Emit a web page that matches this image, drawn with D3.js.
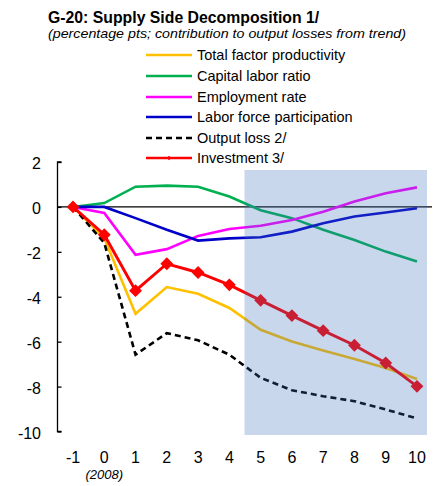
<!DOCTYPE html>
<html>
<head>
<meta charset="utf-8">
<script src="https://cdn.jsdelivr.net/npm/d3@7"></script>
<style>
  html, body { margin: 0; padding: 0; background: #fff; }
  svg { display: block; font-family: "Liberation Sans", Arial, sans-serif; }
</style>
</head>
<body>
<svg id="chart" width="442" height="486"></svg>
<script>
// ---- data ----
const years = [-1, 0, 1, 2, 3, 4, 5, 6, 7, 8, 9, 10];
const tfp        = [0, -1.40, -4.76, -3.57, -3.87, -4.50, -5.47, -5.99, -6.39, -6.77, -7.17, -7.66];
const capital    = [0, 0.17, 0.90, 0.95, 0.90, 0.46, -0.15, -0.50, -1.02, -1.47, -1.99, -2.43];
const employment = [0, -0.27, -2.13, -1.88, -1.29, -0.98, -0.84, -0.58, -0.21, 0.24, 0.61, 0.87];
const laborForce = [0, 0.00, -0.50, -1.02, -1.50, -1.40, -1.35, -1.10, -0.73, -0.43, -0.25, -0.06];
const outputLoss = [0, -1.60, -6.58, -5.62, -5.94, -6.58, -7.61, -8.16, -8.43, -8.65, -9.02, -9.42];
const investment = [0, -1.24, -3.73, -2.53, -2.92, -3.47, -4.16, -4.84, -5.51, -6.16, -6.95, -7.99];
const seriesNames = ["Total factor productivity", "Capital labor ratio", "Employment rate",
                     "Labor force participation", "Output loss 2/", "Investment 3/"];
const yTicks = [2, 0, -2, -4, -6, -8, -10];
const xTickLabels = years.map(String);
const baseYearLabel = "(2008)";
const shadeFrom = 4.5;
const titleText = "G-20: Supply Side Decomposition 1/";
const subtitleText = "(percentage pts; contribution to output losses from trend)";

// ---- drawing ----
const svg = d3.select("#chart");
const x = d3.scaleLinear().domain([-1, 10]).range([73, 417]);
const y = d3.scaleLinear().domain([-10, 2]).range([431.5, 162]);

const series = [
  { name: seriesNames[0], values: tfp, color: "#FFC000" },
  { name: seriesNames[1], values: capital, color: "#00B050" },
  { name: seriesNames[2], values: employment, color: "#FF00FF" },
  { name: seriesNames[3], values: laborForce, color: "#0000C8" },
  { name: seriesNames[4], values: outputLoss, color: "#000000", dash: "6,4" },
  { name: seriesNames[5], values: investment, color: "#FF0000", marker: true }
];

// title
svg.append("text").attr("x", 48).attr("y", 22.5)
  .attr("font-size", 15.8).attr("font-weight", "bold").attr("fill", "#000")
  .text(titleText);
svg.append("text").attr("x", 48).attr("y", 38)
  .attr("font-size", 13.5).attr("font-style", "italic").attr("fill", "#000")
  .attr("textLength", 358).attr("lengthAdjust", "spacingAndGlyphs")
  .text(subtitleText);

// legend
const legendY = [55, 76, 97, 117, 138, 158];
const lg = svg.append("g");
series.forEach((s, i) => {
  const g = lg.append("g").attr("transform", `translate(0,${legendY[i]})`);
  g.append("line").attr("x1", 146).attr("x2", 192).attr("y1", 0).attr("y2", 0)
    .attr("stroke", s.color).attr("stroke-width", 2.5)
    .attr("stroke-dasharray", s.dash || null);
  if (s.marker) {
    g.append("path").attr("d", d3.symbol(d3.symbolDiamond2, 14)())
      .attr("transform", "translate(169,0)").attr("fill", s.color);
  }
  g.append("text").attr("x", 197).attr("y", 5).attr("font-size", 14.5)
    .attr("fill", "#000").text(s.name);
});

// y axis
const yAxis = d3.axisRight(y).tickValues(yTicks).tickSize(4).tickFormat("");
const ya = svg.append("g").attr("transform", "translate(57.5,0)").call(yAxis);
ya.select(".domain").attr("d", `M4,${y(2)}H0V${y(-10)}H4`).attr("stroke", "#000").attr("stroke-width", 1.3);
ya.selectAll(".tick line").attr("stroke", "#000").attr("stroke-width", 1.3);
svg.append("g").selectAll("text").data(yTicks).join("text")
  .attr("x", 41).attr("y", d => y(d) + 7).attr("text-anchor", "end")
  .attr("font-size", 16).attr("fill", "#000").text(d => d);

// x labels
svg.append("g").selectAll("text").data(years).join("text")
  .attr("x", d => x(d)).attr("y", 463).attr("text-anchor", "middle")
  .attr("font-size", 16).attr("fill", "#000").text((d, i) => xTickLabels[i]);
svg.append("text").attr("x", x(0)).attr("y", 479).attr("text-anchor", "middle")
  .attr("font-size", 13).attr("font-style", "italic").attr("fill", "#000").text(baseYearLabel);

// zero line
svg.append("line").attr("x1", 57.5).attr("x2", 432).attr("y1", y(0)).attr("y2", y(0))
  .attr("stroke", "#000").attr("stroke-width", 1.2);

// series lines
const line = d3.line().x((d, i) => x(years[i])).y(d => y(d));
series.forEach(s => {
  svg.append("path").datum(s.values).attr("d", line)
    .attr("fill", "none").attr("stroke", s.color).attr("stroke-width", s.marker ? 2.9 : 2.6)
    .attr("stroke-dasharray", s.dash || null).attr("stroke-linejoin", "miter");
  if (s.marker) {
    svg.append("g").selectAll("path").data(s.values).join("path")
      .attr("d", d3.symbol(d3.symbolDiamond2, 105)())
      .attr("transform", (d, i) => `translate(${x(years[i])},${y(d)})`)
      .attr("fill", s.color);
  }
});

// projection shade (semi-transparent overlay, drawn over the lines)
svg.append("rect")
  .attr("x", x(shadeFrom) - 0.5).attr("y", 170)
  .attr("width", x(10) + 10 - x(shadeFrom) + 0.5).attr("height", 435 - 170)
  .attr("fill", "rgb(60,110,190)").attr("fill-opacity", 0.28);
</script>
</body>
</html>
